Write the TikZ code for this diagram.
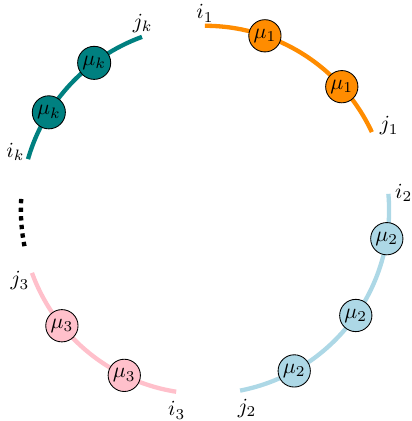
\documentclass[tikz,border=0pt]{standalone}
\usetikzlibrary{positioning}
\definecolor{darkorange}{RGB}{255,140,0}
\definecolor{lightblue}{RGB}{173,216,230}
\definecolor{lightpink}{RGB}{255,192,203}
\definecolor{darkteal}{RGB}{0,128,128}

\begin{document}
\begin{tikzpicture}
    \tikzset{
      seg/.style={line width=2pt},
      mu/.style={
        circle, draw=black, inner sep=1pt
      },
      lbl/.style={inner sep=0pt}
    }
    \useasboundingbox (-3.34,-3.44) rectangle (3.36,3.42);

    % Block 1
    \coordinate (i1) at (90:3);
    \draw[seg, darkorange] (i1) arc[start angle=90, end angle=25, radius=3];
    \node[mu, fill=darkorange] (m1a) at (71:3) {$\mu_1$};
    \node[mu, fill=darkorange] (m1b) at (42:3) {$\mu_1$};
    \node[lbl] (li1) at (90:3.2) {$i_1$};
    \node[lbl] (lj1) at (24.5:3.3) {$j_1$};

    % Block 2
    \coordinate (i2) at (5:3);
    \draw[seg, lightblue] (i2) arc[start angle=5, end angle=-79, radius=3];
    \node[mu, fill=lightblue] (m2a) at (-9:3) {$\mu_2$};
    \node[mu, fill=lightblue] (m2b) at (-35:3) {$\mu_2$};
    \node[mu, fill=lightblue] (m2c) at (-61:3) {$\mu_2$};
    \node[lbl] (li2) at (5:3.25) {$i_2$};
    \node[lbl] (lj2) at (-78:3.3) {$j_2$};

    % Block 3
    \coordinate (i3) at (-99:3);
    \draw[seg, lightpink] (i3) arc[start angle=-99, end angle=-160, radius=3];
    \node[mu, fill=lightpink] (m3a) at (-116:3) {$\mu_3$};
    \node[mu, fill=lightpink] (m3b) at (-141:3) {$\mu_3$};
    \node[lbl] (li3) at (-98:3.3) {$i_3$};
    \node[lbl] (lj3) at (-159:3.23) {$j_3$};

    % the ones we skip
    \coordinate (gap) at (176.6:3);
    \draw[seg, dotted] (gap) arc[start angle=176.6, end angle=191.5, radius=3];

    % Block k
    \coordinate (ik) at (164:3);
    \draw[seg, darkteal] (ik) arc[start angle=164, end angle=110, radius=3];
    \node[mu, fill=darkteal] (mka) at (148:3) {$\mu_k$};
    \node[mu, fill=darkteal] (mkb) at (127:3) {$\mu_k$};
    \node[lbl] (lik) at (163:3.23) {$i_k$};
    \node[lbl] (ljk) at (108.5:3.2) {$j_k$};
  \end{tikzpicture}
\end{document}
